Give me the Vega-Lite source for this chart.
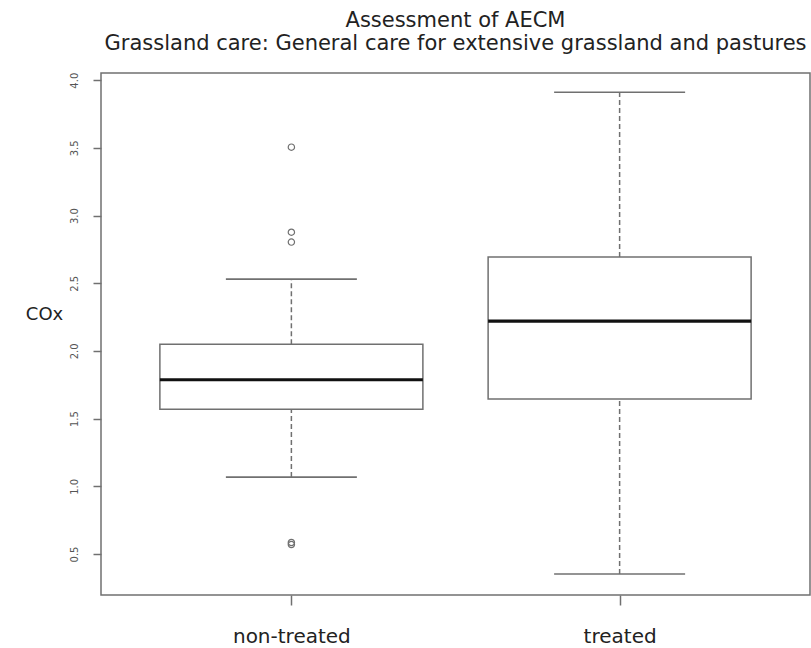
{
  "$schema": "https://vega.github.io/schema/vega-lite/v6.json",
  "width": 709,
  "height": 522,
  "autosize": {"type": "none"},
  "padding": {"left": 101, "top": 73, "right": 1, "bottom": 53},
  "background": "white",
  "title": {
    "text": ["Assessment of AECM", "Grassland care: General care for extensive grassland and pastures"],
    "font": "DejaVu Sans",
    "fontSize": 21,
    "fontWeight": "normal",
    "color": "#222222",
    "lineHeight": 23,
    "baseline": "alphabetic",
    "offset": 1,
    "anchor": "middle"
  },
  "datasets": {
    "boxes": [
      {"group": "non-treated", "lower": 1.068, "q1": 1.570, "median": 1.787, "q3": 2.050, "upper": 2.530},
      {"group": "treated", "lower": 0.352, "q1": 1.644, "median": 2.220, "q3": 2.693, "upper": 3.911}
    ],
    "outliers": [
      {"group": "non-treated", "value": 3.505},
      {"group": "non-treated", "value": 2.877},
      {"group": "non-treated", "value": 2.804},
      {"group": "non-treated", "value": 0.585},
      {"group": "non-treated", "value": 0.570}
    ]
  },
  "config": {
    "view": {"stroke": "#707070", "strokeWidth": 1.5},
    "axisX": {
      "domain": false,
      "grid": false,
      "tickSize": 10,
      "tickColor": "#707070",
      "tickWidth": 1.5,
      "labelAngle": 0,
      "labelFont": "DejaVu Sans",
      "labelFontSize": 20,
      "labelColor": "#222222",
      "labelBaseline": "top",
      "labelPadding": 21
    },
    "axisY": {
      "domain": false,
      "grid": false,
      "labelAngle": 270,
      "labelAlign": "center",
      "labelBaseline": "middle",
      "labelPadding": 19,
      "labelFont": "DejaVu Sans",
      "labelFontSize": 10,
      "labelColor": "#555555",
      "tickSize": 8,
      "tickColor": "#707070",
      "tickWidth": 1.5,
      "titleAngle": 0,
      "titleX": -57,
      "titleY": 241,
      "titleAlign": "center",
      "titleBaseline": "middle",
      "titleFont": "DejaVu Sans",
      "titleFontSize": 18,
      "titleFontWeight": "normal",
      "titleColor": "#222222"
    }
  },
  "encoding": {
    "x": {
      "field": "group",
      "type": "nominal",
      "scale": {"type": "point", "padding": 0.58, "domain": ["non-treated", "treated"]},
      "axis": {"title": null}
    }
  },
  "layer": [
    {
      "data": {"name": "boxes"},
      "mark": {"type": "rule", "color": "#707070", "strokeWidth": 1.5, "strokeDash": [5, 3]},
      "encoding": {
        "y": {"field": "lower", "type": "quantitative", "title": "COx", "scale": {"domain": [0.197, 4.053], "nice": false, "zero": false}, "axis": {"values": [0.5, 1, 1.5, 2, 2.5, 3, 3.5, 4], "format": ".1f"}},
        "y2": {"field": "q1"}
      }
    },
    {
      "data": {"name": "boxes"},
      "mark": {"type": "rule", "color": "#707070", "strokeWidth": 1.5, "strokeDash": [5, 3]},
      "encoding": {
        "y": {"field": "q3", "type": "quantitative", "title": "COx", "scale": {"domain": [0.197, 4.053], "nice": false, "zero": false}, "axis": {"values": [0.5, 1, 1.5, 2, 2.5, 3, 3.5, 4], "format": ".1f"}},
        "y2": {"field": "upper"}
      }
    },
    {
      "data": {"name": "boxes"},
      "mark": {"type": "tick", "color": "#707070", "opacity": 1, "size": 131, "thickness": 1.6, "orient": "horizontal"},
      "encoding": {
        "y": {"field": "lower", "type": "quantitative", "title": "COx", "scale": {"domain": [0.197, 4.053], "nice": false, "zero": false}, "axis": {"values": [0.5, 1, 1.5, 2, 2.5, 3, 3.5, 4], "format": ".1f"}}
      }
    },
    {
      "data": {"name": "boxes"},
      "mark": {"type": "tick", "color": "#707070", "opacity": 1, "size": 131, "thickness": 1.6, "orient": "horizontal"},
      "encoding": {
        "y": {"field": "upper", "type": "quantitative", "title": "COx", "scale": {"domain": [0.197, 4.053], "nice": false, "zero": false}, "axis": {"values": [0.5, 1, 1.5, 2, 2.5, 3, 3.5, 4], "format": ".1f"}}
      }
    },
    {
      "data": {"name": "boxes"},
      "mark": {"type": "bar", "width": 263, "fill": "white", "stroke": "#707070", "strokeWidth": 1.5},
      "encoding": {
        "y": {"field": "q1", "type": "quantitative", "title": "COx", "scale": {"domain": [0.197, 4.053], "nice": false, "zero": false}, "axis": {"values": [0.5, 1, 1.5, 2, 2.5, 3, 3.5, 4], "format": ".1f"}},
        "y2": {"field": "q3"}
      }
    },
    {
      "data": {"name": "boxes"},
      "mark": {"type": "tick", "color": "#111111", "opacity": 1, "size": 263, "thickness": 3.2, "orient": "horizontal"},
      "encoding": {
        "y": {"field": "median", "type": "quantitative", "title": "COx", "scale": {"domain": [0.197, 4.053], "nice": false, "zero": false}, "axis": {"values": [0.5, 1, 1.5, 2, 2.5, 3, 3.5, 4], "format": ".1f"}}
      }
    },
    {
      "data": {"name": "outliers"},
      "mark": {"type": "point", "shape": "circle", "filled": false, "opacity": 1, "size": 40, "stroke": "#707070", "strokeWidth": 1.2},
      "encoding": {
        "y": {"field": "value", "type": "quantitative", "title": "COx", "scale": {"domain": [0.197, 4.053], "nice": false, "zero": false}, "axis": {"values": [0.5, 1, 1.5, 2, 2.5, 3, 3.5, 4], "format": ".1f"}}
      }
    }
  ]
}
